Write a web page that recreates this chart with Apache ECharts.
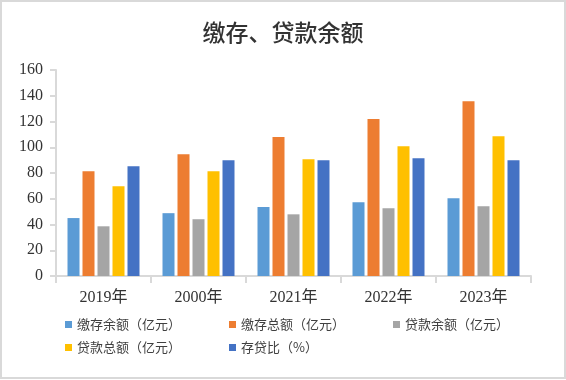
<!DOCTYPE html>
<html>
<head>
<meta charset="utf-8">
<script src="https://cdn.jsdelivr.net/npm/echarts@6/dist/echarts.min.js"></script>
<style>
html,body{margin:0;padding:0;background:#fff;}
#c{width:566px;height:380px;}
</style>
</head>
<body>
<div id="c"></div>
<script>
var categories = ['2019年', '2000年', '2021年', '2022年', '2023年'];
var depositBalance = [45, 48.8, 53.5, 57.3, 60.4];
var depositTotal = [81.4, 94.6, 107.9, 121.9, 135.8];
var loanBalance = [38.6, 44.1, 47.9, 52.6, 54.2];
var loanTotal = [69.8, 81.4, 90.7, 100.8, 108.6];
var ldRatio = [85.3, 89.9, 89.9, 91.5, 89.9];
var yTicks = [0, 160, 20];

var names = ['缴存余额（亿元）', '缴存总额（亿元）', '贷款余额（亿元）', '贷款总额（亿元）', '存贷比（%）'];
var colors = ['#5B9BD5', '#ED7D31', '#A5A5A5', '#FFC000', '#4472C4'];
var values = [depositBalance, depositTotal, loanBalance, loanTotal, ldRatio];

var cjk = '"Noto Sans CJK SC", "Noto Sans", sans-serif';
var serif = '"Liberation Serif", "Noto Sans CJK SC", serif';

var chart = echarts.init(document.getElementById('c'), null, {renderer: 'canvas'});
var legendBase = {
  orient: 'horizontal', padding: 0, itemWidth: 7, itemHeight: 7, itemGap: 48,
  icon: 'rect',
  textStyle: {fontFamily: cjk, fontSize: 13, color: '#404040'}
};
chart.setOption({
  animation: false,
  title: {
    text: '缴存、贷款余额', left: 'center', top: 16,
    textStyle: {fontFamily: cjk, fontSize: 23, fontWeight: 500, color: '#333333'}
  },
  graphic: [{
    type: 'rect', shape: {x: 1, y: 1, width: 564, height: 377},
    style: {fill: 'none', stroke: '#d9d9d9', lineWidth: 2}, silent: true
  }],
  legend: [
    Object.assign({}, legendBase, {left: 65, top: 318, data: names.slice(0, 3)}),
    Object.assign({}, legendBase, {left: 65, top: 341, data: names.slice(3)})
  ],
  grid: {left: 56, right: 35, top: 70, bottom: 104},
  xAxis: {
    type: 'category', data: categories,
    axisLine: {lineStyle: {color: '#d9d9d9', width: 2}},
    axisTick: {show: true, length: 7, lineStyle: {color: '#d9d9d9', width: 2}},
    axisLabel: {fontFamily: serif, fontSize: 16, color: '#333333', margin: 14}
  },
  yAxis: {
    type: 'value', min: yTicks[0], max: yTicks[1], interval: yTicks[2],
    axisLine: {show: true, lineStyle: {color: '#d9d9d9', width: 2}},
    axisTick: {show: true, length: 6, lineStyle: {color: '#d9d9d9', width: 2}},
    splitLine: {show: false},
    axisLabel: {fontFamily: serif, fontSize: 16, color: '#333333', margin: 13}
  },
  series: names.map(function (n, i) {
    return {
      name: n, type: 'bar', data: values[i], barWidth: 12, barGap: '25%',
      itemStyle: {color: colors[i]}
    };
  })
});
</script>
</body>
</html>
